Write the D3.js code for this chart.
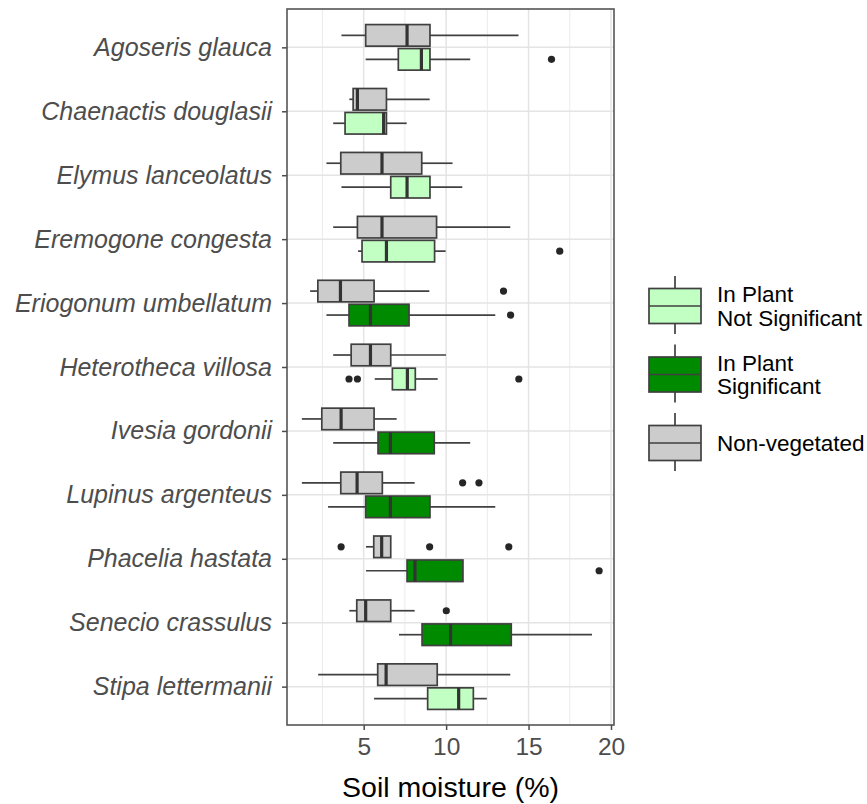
<!DOCTYPE html>
<html>
<head>
<meta charset="utf-8">
<script src="https://cdn.jsdelivr.net/npm/d3@7"></script>
<style>
  html, body { margin: 0; padding: 0; background: #fff; }
  svg { display: block; font-family: "Liberation Sans", Arial, sans-serif; }
</style>
</head>
<body>
<svg id="chart" width="867" height="804"></svg>
<script>
// Species, top to bottom
const species = [
  "Agoseris glauca", "Chaenactis douglasii", "Elymus lanceolatus",
  "Eremogone congesta", "Eriogonum umbellatum", "Heterotheca villosa",
  "Ivesia gordonii", "Lupinus argenteus", "Phacelia hastata",
  "Senecio crassulus", "Stipa lettermanii"
];

// Five-number summaries [lower whisker, Q1, median, Q3, upper whisker]
const nonVegetated = [
  [3.65, 5.12, 7.63, 9.02, 14.39],
  [4.13, 4.36, 4.62, 6.38, 9.00],
  [2.74, 3.61, 6.11, 8.52, 10.39],
  [3.15, 4.62, 6.11, 9.42, 13.89],
  [1.75, 2.22, 3.59, 5.63, 8.98],
  [3.15, 4.24, 5.41, 6.64, 9.99],
  [1.25, 2.46, 3.63, 5.63, 7.00],
  [1.25, 3.61, 4.60, 6.13, 8.09],
  [5.14, 5.61, 6.09, 6.64, 6.64],
  [4.13, 4.58, 5.12, 6.64, 8.09],
  [2.24, 5.85, 6.36, 9.46, 13.89]
];
const inPlant = [
  [5.12, 7.10, 8.50, 9.02, 11.46],
  [3.15, 3.87, 6.21, 6.38, 7.61],
  [3.65, 6.64, 7.63, 9.02, 10.98],
  [4.66, 4.90, 6.38, 9.30, 9.97],
  [2.74, 4.11, 5.41, 7.75, 12.98],
  [5.67, 6.74, 7.65, 8.13, 9.49],
  [3.15, 5.87, 6.62, 9.28, 11.46],
  [2.84, 5.12, 6.62, 9.02, 12.98],
  [5.14, 7.63, 8.11, 11.02, 11.02],
  [7.14, 8.54, 10.27, 13.95, 18.85],
  [5.63, 8.88, 10.76, 11.65, 12.47]
];
// Whether the in-plant difference is significant
const significant = [false, false, false, false, true, false, true, true, true, true, false];

// Outlying points
const nonVegetatedOutliers = [
  [], [], [], [], [13.48], [], [], [11.0, 11.99], [3.63, 9.0, 13.8], [10.01], []
];
const inPlantOutliers = [
  [16.39], [], [], [16.89], [13.91], [4.11, 4.62, 14.41], [], [], [19.28], [], []
];

const xTicks = [5, 10, 15, 20];
const xMinorTicks = [2.5, 7.5, 12.5, 17.5];

const legendItems = [
  { lines: ["In Plant", "Not Significant"], fill: "#c2ffc2" },
  { lines: ["In Plant", "Significant"], fill: "#008a00" },
  { lines: ["Non-vegetated"], fill: "#cccccc" }
];

const colors = { grey: "#cccccc", light: "#c2ffc2", dark: "#008a00" };

const svg = d3.select("#chart");
const panel = { left: 287, right: 614, top: 9, bottom: 725 };

// Expand the value range by 5% on each side
const allVals = nonVegetated.flat().concat(inPlant.flat(),
  nonVegetatedOutliers.flat(), inPlantOutliers.flat());
const vMin = d3.min(allVals), vMax = d3.max(allVals);
const pad = (vMax - vMin) * 0.05;
const x = d3.scaleLinear().domain([vMin - pad, vMax + pad]).range([panel.left, panel.right]);
const y = d3.scalePoint().domain(species).range([panel.top, panel.bottom]).padding(0.6);
const step = y.step();
const boxH = step * 0.3375;
const offset = step * 0.1875;

// Grid
const grid = svg.append("g");
grid.selectAll("line.minor").data(xMinorTicks).join("line")
  .attr("x1", d => x(d)).attr("x2", d => x(d))
  .attr("y1", panel.top).attr("y2", panel.bottom)
  .attr("stroke", "#ebebeb").attr("stroke-width", 1);
grid.selectAll("line.major").data(xTicks).join("line")
  .attr("x1", d => x(d)).attr("x2", d => x(d))
  .attr("y1", panel.top).attr("y2", panel.bottom)
  .attr("stroke", "#e4e4e4").attr("stroke-width", 1.5);
grid.selectAll("line.h").data(species).join("line")
  .attr("x1", panel.left).attr("x2", panel.right)
  .attr("y1", d => y(d)).attr("y2", d => y(d))
  .attr("stroke", "#e4e4e4").attr("stroke-width", 1.5);

// Boxes
function drawBox(g, s, cy, fill) {
  g.append("line")
    .attr("x1", x(s[0])).attr("x2", x(s[1]))
    .attr("y1", cy).attr("y2", cy)
    .attr("stroke", "#404040").attr("stroke-width", 1.7);
  g.append("line")
    .attr("x1", x(s[3])).attr("x2", x(s[4]))
    .attr("y1", cy).attr("y2", cy)
    .attr("stroke", "#404040").attr("stroke-width", 1.7);
  g.append("rect")
    .attr("x", x(s[1])).attr("width", x(s[3]) - x(s[1]))
    .attr("y", cy - boxH / 2).attr("height", boxH)
    .attr("fill", fill).attr("stroke", "#404040").attr("stroke-width", 1.7);
  g.append("line")
    .attr("x1", x(s[2])).attr("x2", x(s[2]))
    .attr("y1", cy - boxH / 2).attr("y2", cy + boxH / 2)
    .attr("stroke", "#333333").attr("stroke-width", 3.2);
}
function drawOutliers(g, pts, cy) {
  g.selectAll(null).data(pts).join("circle")
    .attr("cx", d => x(d)).attr("cy", cy).attr("r", 3.6)
    .attr("fill", "#262626");
}

const boxes = svg.append("g");
species.forEach((sp, i) => {
  const g = boxes.append("g");
  const cy = y(sp);
  drawBox(g, nonVegetated[i], cy - offset, colors.grey);
  drawOutliers(g, nonVegetatedOutliers[i], cy - offset);
  drawBox(g, inPlant[i], cy + offset, significant[i] ? colors.dark : colors.light);
  drawOutliers(g, inPlantOutliers[i], cy + offset);
});

// Panel border
svg.append("rect")
  .attr("x", panel.left).attr("y", panel.top)
  .attr("width", panel.right - panel.left).attr("height", panel.bottom - panel.top)
  .attr("fill", "none").attr("stroke", "#555555").attr("stroke-width", 1.6);

// X axis
const xAxis = svg.append("g").attr("transform", `translate(0,${panel.bottom})`)
  .call(d3.axisBottom(x).tickValues(xTicks).tickSize(5).tickPadding(8));
xAxis.select(".domain").remove();
xAxis.selectAll(".tick line").attr("stroke", "#4d4d4d").attr("stroke-width", 1.5);
xAxis.selectAll(".tick text").attr("fill", "#4d4d4d")
  .style("font-size", "24.5px").style("font-family", "Liberation Sans, Arial, sans-serif");

// Y axis
const yAxis = svg.append("g").attr("transform", `translate(${panel.left},0)`)
  .call(d3.axisLeft(y).tickSize(5).tickPadding(10));
yAxis.select(".domain").remove();
yAxis.selectAll(".tick line").attr("stroke", "#4d4d4d").attr("stroke-width", 1.5);
yAxis.selectAll(".tick text").attr("fill", "#4d4d4d")
  .style("font-size", "25px").style("font-style", "italic")
  .style("font-family", "Liberation Sans, Arial, sans-serif");

// Axis title
svg.append("text")
  .attr("x", (panel.left + panel.right) / 2).attr("y", 797)
  .attr("text-anchor", "middle").attr("fill", "#000")
  .style("font-size", "28.5px")
  .text("Soil moisture (%)");

// Legend
const legend = svg.append("g");
const keyX = 649, keyW = 52, keyH = 35, keySpacing = 68.5, firstKeyCy = 306;
legendItems.forEach((item, i) => {
  const cy = firstKeyCy + i * keySpacing;
  const g = legend.append("g");
  g.append("line")
    .attr("x1", keyX + keyW / 2).attr("x2", keyX + keyW / 2)
    .attr("y1", cy - 30).attr("y2", cy + 28)
    .attr("stroke", "#404040").attr("stroke-width", 1.7);
  g.append("rect")
    .attr("x", keyX).attr("y", cy - keyH / 2).attr("width", keyW).attr("height", keyH)
    .attr("fill", item.fill).attr("stroke", "#404040").attr("stroke-width", 1.7);
  g.append("line")
    .attr("x1", keyX).attr("x2", keyX + keyW)
    .attr("y1", cy).attr("y2", cy)
    .attr("stroke", "#404040").attr("stroke-width", 1.7);
  const lh = 23.5;
  const n = item.lines.length;
  item.lines.forEach((t, j) => {
    g.append("text")
      .attr("x", 717)
      .attr("y", cy + 8 + (j - (n - 1) / 2) * lh)
      .attr("fill", "#000")
      .style("font-size", "22.5px")
      .text(t);
  });
});
</script>
</body>
</html>
